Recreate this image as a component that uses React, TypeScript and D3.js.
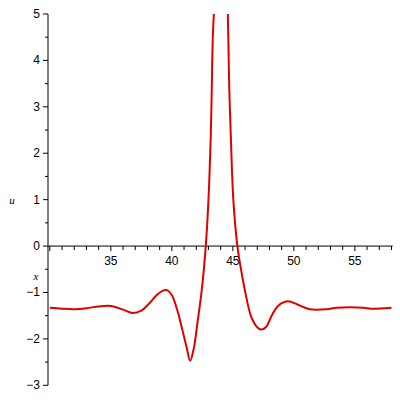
import React from "react";
import * as d3 from "d3";

const xs: number[] = [30, 31, 32, 33, 34, 35, 36, 36.8, 37.5, 38.1, 38.7, 39.2, 39.6, 40.0, 40.4, 40.8, 41.2, 41.5, 41.8, 42.1, 42.45, 42.78, 43.0, 43.19, 43.27, 43.35, 43.46, NaN, 44.58, 44.63, 44.71, 44.83, 45.04, 45.37, 45.6, 46.0, 46.5, 47.0, 47.3, 47.7, 48.2, 48.7, 49.5, 50.3, 51.3, 52.7, 53.5, 55.7, 56.3, 58];
const us: number[] = [-1.33, -1.35, -1.36, -1.34, -1.3, -1.29, -1.37, -1.44, -1.39, -1.25, -1.07, -0.97, -0.95, -1.06, -1.34, -1.74, -2.17, -2.47, -2.2, -1.65, -0.95, 0, 0.99, 2.39, 3.36, 4.44, 5.1, NaN, 5.1, 4.44, 3.36, 2.39, 0.99, 0, -0.4, -0.97, -1.52, -1.75, -1.8, -1.75, -1.49, -1.29, -1.19, -1.26, -1.36, -1.36, -1.33, -1.33, -1.35, -1.33];

const xLabelTicks = [35, 40, 45, 50, 55];
const xMinorTicks = d3.range(30, 59, 1);
const yLabelTicks = [-3, -2, -1, 0, 1, 2, 3, 4, 5];
const yMinorTicks = d3.range(-3, 5.01, 0.5);

export default function App() {
  const x = d3.scaleLinear().domain([29.85, 58.1]).range([48, 392.7]);
  const y = d3.scaleLinear().domain([-3, 5]).range([385.3, 14]);
  const pts = xs.map((v, i) => [v, us[i]] as [number, number]);
  const line = d3
    .line<[number, number]>()
    .defined((d) => !isNaN(d[0]))
    .x((d) => x(d[0]))
    .y((d) => y(d[1]))
    .curve(d3.curveCatmullRom.alpha(0.5));
  const y0 = y(0);
  const font = "Liberation Sans, sans-serif";
  return (
    <svg width={400} height={400} style={{ position: "absolute", left: 0, top: 0 }}>
      <rect width={400} height={400} fill="#fff" />
      <defs>
        <clipPath id="plot">
          <rect x={40} y={14} width={360} height={372} />
        </clipPath>
      </defs>
      <line x1={48} x2={392.7} y1={y0} y2={y0} stroke="#000" strokeWidth={1} />
      {xMinorTicks.map((t) => (
        <line key={"xm" + t} x1={x(t)} x2={x(t)} y1={y0} y2={y0 + (t % 5 === 0 ? 5 : 4)} stroke="#000" />
      ))}
      {xLabelTicks.map((t) => (
        <text key={"xl" + t} x={x(t)} y={y0 + 19} textAnchor="middle" fontSize={12} fontFamily={font}>
          {t}
        </text>
      ))}
      <line x1={48} x2={48} y1={14} y2={385.3} stroke="#000" strokeWidth={1} />
      {yMinorTicks.map((t) => (
        <line key={"ym" + t} x1={48 - (Number.isInteger(t) ? 5 : 3)} x2={48} y1={y(t)} y2={y(t)} stroke="#000" />
      ))}
      {yLabelTicks.map((t) => (
        <text key={"yl" + t} x={40} y={y(t) + 4} textAnchor="end" fontSize={12} fontFamily={font}>
          {t < 0 ? "\u2212" + Math.abs(t) : t}
        </text>
      ))}
      <text x={12} y={204} textAnchor="middle" fontSize={11} fontStyle="italic" fontFamily="Liberation Serif, serif">u</text>
      <text x={36} y={280} textAnchor="middle" fontSize={11} fontStyle="italic" fontFamily="Liberation Serif, serif">x</text>
      <path d={line(pts) || ""} fill="none" stroke="#e00000" strokeWidth={2} clipPath="url(#plot)" />
    </svg>
  );
}
